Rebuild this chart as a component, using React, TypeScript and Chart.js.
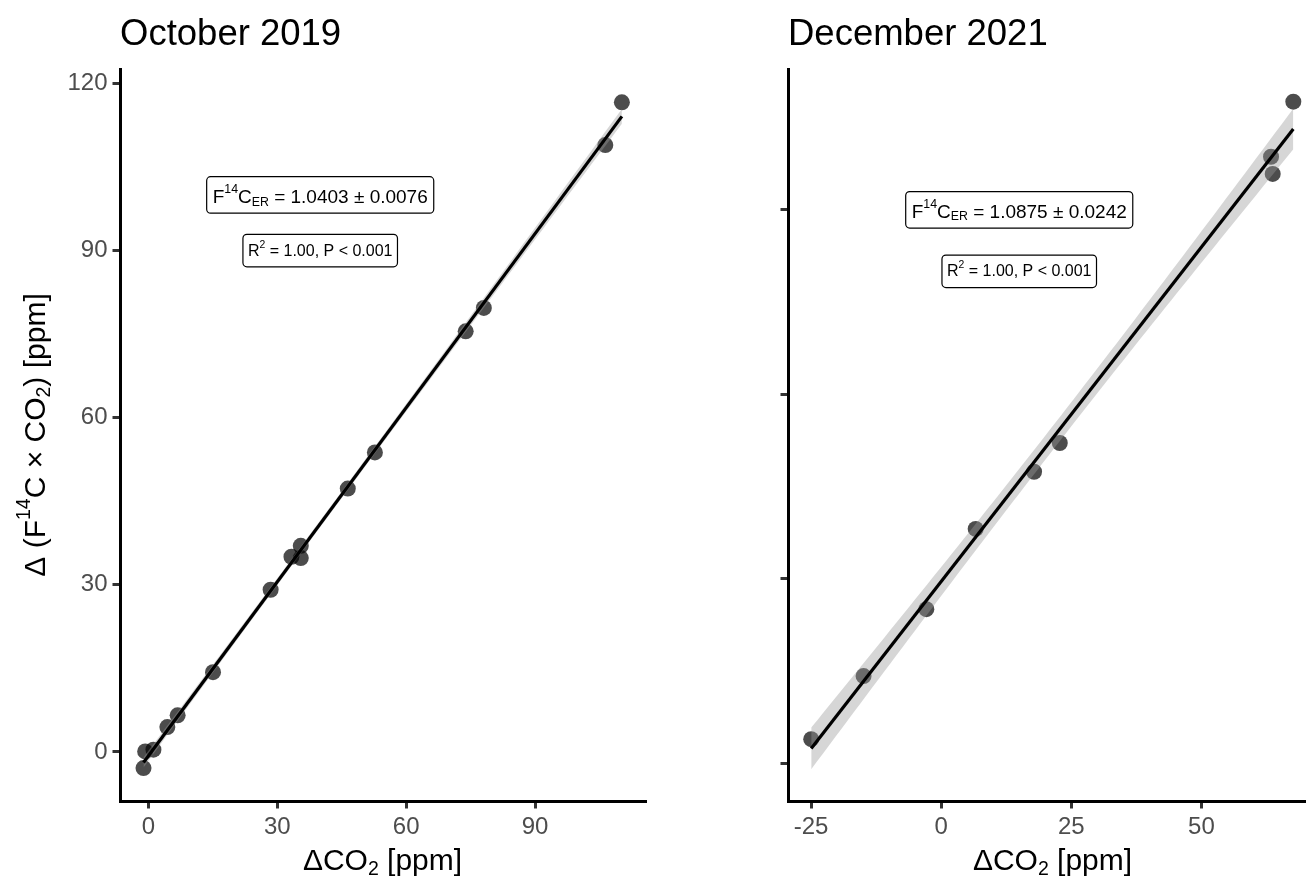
import React, { useEffect, useRef } from 'react';
import { Chart, registerables } from 'chart.js';

Chart.register(...registerables);

const FONT = '"Liberation Sans", Arial, Helvetica, sans-serif';

// ---------------- data ----------------
const octoberX = [-1.13, -0.74, 1.18, 4.42, 6.82, 15.05, 28.46, 33.31, 35.48, 35.48, 46.42, 52.73, 73.86, 78.09, 106.36, 110.22];
const octoberY = [-2.89, 0.1, 0.41, 4.47, 6.58, 14.33, 29.12, 35.04, 37.01, 34.8, 47.29, 53.77, 75.51, 79.71, 108.95, 116.61];

const decemberX = [-24.96, -14.9, -2.85, 6.63, 17.85, 22.79, 63.37, 63.69, 67.65];
const decemberY = [3.93, 14.18, 25.07, 38.11, 47.41, 52.08, 98.63, 95.84, 107.59];

const octoberXTicks = [0, 30, 60, 90];
const octoberYTicks = [0, 30, 60, 90, 120];
const decemberXTicks = [-25, 0, 25, 50];
const decemberYTicks = [0, 30, 60, 90];

const octoberSlopeText = ' = 1.0403 ± 0.0076';
const decemberSlopeText = ' = 1.0875 ± 0.0242';
const fitStatsText = ' = 1.00, P < 0.001';

// two-sided 95% t quantiles by degrees of freedom
const T975: Record<number, number> = { 7: 2.365, 14: 2.145 };

type Seg = [string, 'n' | 'sup' | 'sub'];

function segFont(kind: string, size: number) {
  return `${kind === 'n' ? size : size * 0.65}px ${FONT}`;
}
function measureRich(ctx: CanvasRenderingContext2D, segs: Seg[], size: number) {
  let w = 0;
  for (const [t, k] of segs) {
    ctx.font = segFont(k, size);
    w += ctx.measureText(t).width;
  }
  return w;
}
function drawRich(ctx: CanvasRenderingContext2D, segs: Seg[], x: number, y: number, size: number, align: string) {
  const w = measureRich(ctx, segs, size);
  let cx = align === 'center' ? x - w / 2 : align === 'right' ? x - w : x;
  ctx.textAlign = 'left';
  ctx.textBaseline = 'alphabetic';
  for (const [t, k] of segs) {
    ctx.font = segFont(k, size);
    const dy = k === 'sup' ? -size * 0.5 : k === 'sub' ? size * 0.15 : 0;
    ctx.fillText(t, cx, y + dy);
    cx += ctx.measureText(t).width;
  }
}
function drawLabel(ctx: CanvasRenderingContext2D, segs: Seg[], cx: number, cy: number, size: number, padX: number, h: number, baseOff: number) {
  const w = measureRich(ctx, segs, size) + 2 * padX;
  const x0 = cx - w / 2;
  const y0 = cy - h / 2;
  const r = 4;
  ctx.beginPath();
  ctx.moveTo(x0 + r, y0);
  ctx.lineTo(x0 + w - r, y0);
  ctx.arcTo(x0 + w, y0, x0 + w, y0 + r, r);
  ctx.lineTo(x0 + w, y0 + h - r);
  ctx.arcTo(x0 + w, y0 + h, x0 + w - r, y0 + h, r);
  ctx.lineTo(x0 + r, y0 + h);
  ctx.arcTo(x0, y0 + h, x0, y0 + h - r, r);
  ctx.lineTo(x0, y0 + r);
  ctx.arcTo(x0, y0, x0 + r, y0, r);
  ctx.closePath();
  ctx.fillStyle = '#ffffff';
  ctx.fill();
  ctx.lineWidth = 1.2;
  ctx.strokeStyle = '#000000';
  ctx.stroke();
  ctx.fillStyle = '#000000';
  drawRich(ctx, segs, cx, cy + baseOff, size, 'center');
}

function fitLinear(xs: number[], ys: number[]) {
  const n = xs.length;
  const mx = xs.reduce((a, b) => a + b, 0) / n;
  const my = ys.reduce((a, b) => a + b, 0) / n;
  let sxx = 0;
  let sxy = 0;
  for (let i = 0; i < n; i++) {
    sxx += (xs[i] - mx) ** 2;
    sxy += (xs[i] - mx) * (ys[i] - my);
  }
  const b = sxy / sxx;
  const a = my - b * mx;
  let sse = 0;
  for (let i = 0; i < n; i++) sse += (ys[i] - a - b * xs[i]) ** 2;
  const s = Math.sqrt(sse / (n - 2));
  const t = T975[n - 2] ?? 2.0;
  return { a, b, s, sxx, mx, n, t };
}

const xTitle: Seg[] = [['ΔCO', 'n'], ['2', 'sub'], [' [ppm]', 'n']];
const yTitle: Seg[] = [['Δ (F', 'n'], ['14', 'sup'], ['C × CO', 'n'], ['2', 'sub'], [') [ppm]', 'n']];

interface Panel {
  key: string;
  title: string;
  xs: number[];
  ys: number[];
  xTicks: number[];
  yTicks: number[];
  showYLabels: boolean;
  xMin: number;
  xMax: number;
  yMin: number;
  yMax: number;
  labelX: number;
  labelY1: number;
  labelY2: number;
  slopeText: string;
  canvasLeft: number;
  canvasWidth: number;
  areaLeft: number;
  areaRight: number;
}

const panels: Panel[] = [
  {
    key: 'oct',
    title: 'October 2019',
    xs: octoberX,
    ys: octoberY,
    xTicks: octoberXTicks,
    yTicks: octoberYTicks,
    showYLabels: true,
    xMin: -6.6,
    xMax: 115.6,
    yMin: -8.8,
    yMax: 122.6,
    labelX: 40,
    labelY1: 100,
    labelY2: 90,
    slopeText: octoberSlopeText,
    canvasLeft: 0,
    canvasWidth: 653,
    areaLeft: 120,
    areaRight: 648,
  },
  {
    key: 'dec',
    title: 'December 2021',
    xs: decemberX,
    ys: decemberY,
    xTicks: decemberXTicks,
    yTicks: decemberYTicks,
    showYLabels: false,
    xMin: -29.42,
    xMax: 72.2,
    yMin: -6.13,
    yMax: 112.9,
    labelX: 15,
    labelY1: 90,
    labelY2: 80,
    slopeText: decemberSlopeText,
    canvasLeft: 653,
    canvasWidth: 680,
    areaLeft: 788,
    areaRight: 1317,
  },
];

const AREA_TOP = 69;
const AREA_BOTTOM = 801;
const H = 879;
const Y_AXIS_W = 100;
const X_AXIS_H = 50;

function buildConfig(p: Panel): any {
  const f = fitLinear(p.xs, p.ys);
  const xmin = Math.min(...p.xs);
  const xmax = Math.max(...p.xs);
  const lower: { x: number; y: number }[] = [];
  const upper: { x: number; y: number }[] = [];
  const N = 80;
  for (let i = 0; i < N; i++) {
    const x = xmin + ((xmax - xmin) * i) / (N - 1);
    const yhat = f.a + f.b * x;
    const se = f.s * Math.sqrt(1 / f.n + (x - f.mx) ** 2 / f.sxx);
    lower.push({ x, y: yhat - f.t * se });
    upper.push({ x, y: yhat + f.t * se });
  }
  const line = [
    { x: xmin, y: f.a + f.b * xmin },
    { x: xmax, y: f.a + f.b * xmax },
  ];
  const points = p.xs.map((x, i) => ({ x, y: p.ys[i] }));

  const tickGrid = {
    display: true,
    drawOnChartArea: false,
    drawTicks: true,
    tickLength: 7.5,
    tickWidth: 3,
    tickColor: '#333333',
    lineWidth: 3,
    color: '#333333',
  };

  const decor = {
    id: 'decor_' + p.key,
    afterDraw(chart: any) {
      const ctx: CanvasRenderingContext2D = chart.ctx;
      const area = chart.chartArea;
      const xs = chart.scales.x;
      const ys = chart.scales.y;
      ctx.save();
      ctx.fillStyle = '#000000';
      ctx.font = `36.5px ${FONT}`;
      ctx.textAlign = 'left';
      ctx.textBaseline = 'alphabetic';
      ctx.fillText(p.title, area.left, 45);

      drawRich(ctx, xTitle, (area.left + area.right) / 2, 870, 30, 'center');

      if (p.showYLabels) {
        ctx.save();
        ctx.translate(45, (area.top + area.bottom) / 2);
        ctx.rotate(-Math.PI / 2);
        drawRich(ctx, yTitle, 0, 0, 30, 'center');
        ctx.restore();
      }

      const lx = xs.getPixelForValue(p.labelX);
      drawLabel(
        ctx,
        [['F', 'n'], ['14', 'sup'], ['C', 'n'], ['ER', 'sub'], [p.slopeText, 'n']],
        lx,
        ys.getPixelForValue(p.labelY1),
        19,
        6,
        36.5,
        7.8
      );
      drawLabel(
        ctx,
        [['R', 'n'], ['2', 'sup'], [fitStatsText, 'n']],
        lx,
        ys.getPixelForValue(p.labelY2),
        16,
        5,
        32.5,
        5
      );
      ctx.restore();
    },
  };

  return {
    type: 'scatter',
    data: {
      datasets: [
        {
          type: 'scatter',
          data: points,
          pointRadius: 8,
          pointBackgroundColor: 'rgba(0,0,0,0.7)',
          backgroundColor: 'rgba(0,0,0,0.7)',
          pointBorderWidth: 0,
          borderWidth: 0,
          order: 3,
        },
        {
          type: 'line',
          data: lower,
          pointRadius: 0,
          borderColor: 'rgba(0,0,0,0)',
          borderWidth: 0,
          fill: false,
          tension: 0,
          order: 2,
        },
        {
          type: 'line',
          data: upper,
          pointRadius: 0,
          borderColor: 'rgba(0,0,0,0)',
          borderWidth: 0,
          backgroundColor: 'rgba(153,153,153,0.4)',
          fill: 1,
          tension: 0,
          order: 1,
        },
        {
          type: 'line',
          data: line,
          pointRadius: 0,
          borderColor: '#000000',
          borderWidth: 3.2,
          fill: false,
          tension: 0,
          order: 0,
        },
      ],
    },
    options: {
      responsive: false,
      maintainAspectRatio: false,
      animation: false,
      events: [],
      layout: {
        padding: {
          left: p.areaLeft - p.canvasLeft - Y_AXIS_W,
          right: p.canvasLeft + p.canvasWidth - p.areaRight,
          top: AREA_TOP,
          bottom: H - AREA_BOTTOM - X_AXIS_H,
        },
      },
      plugins: {
        legend: { display: false },
        tooltip: { enabled: false },
        title: { display: false },
        filler: { drawTime: 'beforeDatasetDraw', propagate: false },
      },
      scales: {
        x: {
          type: 'linear',
          position: 'bottom',
          min: p.xMin,
          max: p.xMax,
          afterBuildTicks: (s: any) => {
            s.ticks = p.xTicks.map((v) => ({ value: v }));
          },
          afterFit: (s: any) => {
            s.height = X_AXIS_H;
          },
          ticks: {
            font: { family: FONT, size: 24 },
            color: '#4D4D4D',
            padding: 4,
            maxRotation: 0,
            autoSkip: false,
            callback: (v: any) => String(v),
          },
          grid: tickGrid,
          border: { display: true, color: '#000000', width: 3 },
        },
        y: {
          type: 'linear',
          position: 'left',
          min: p.yMin,
          max: p.yMax,
          afterBuildTicks: (s: any) => {
            s.ticks = p.yTicks.map((v) => ({ value: v }));
          },
          afterFit: (s: any) => {
            s.width = Y_AXIS_W;
          },
          ticks: {
            font: { family: FONT, size: 24 },
            color: '#4D4D4D',
            padding: 5,
            autoSkip: false,
            callback: (v: any) => (p.showYLabels ? String(v) : ''),
          },
          grid: tickGrid,
          border: { display: true, color: '#000000', width: 3 },
        },
      },
    },
    plugins: [decor],
  };
}

function PanelChart({ panel }: { panel: Panel }) {
  const ref = useRef<HTMLCanvasElement | null>(null);
  useEffect(() => {
    if (!ref.current) return;
    const chart = new Chart(ref.current, buildConfig(panel));
    return () => chart.destroy();
  }, [panel]);
  return (
    <canvas
      ref={ref}
      width={panel.canvasWidth}
      height={H}
      style={{ position: 'absolute', left: panel.canvasLeft, top: 0, width: panel.canvasWidth, height: H }}
    />
  );
}

export default function App() {
  return (
    <div
      style={{
        position: 'absolute',
        left: 0,
        top: 0,
        width: 1306,
        height: 879,
        overflow: 'hidden',
        background: '#ffffff',
      }}
    >
      {panels.map((p) => (
        <PanelChart key={p.key} panel={p} />
      ))}
    </div>
  );
}
